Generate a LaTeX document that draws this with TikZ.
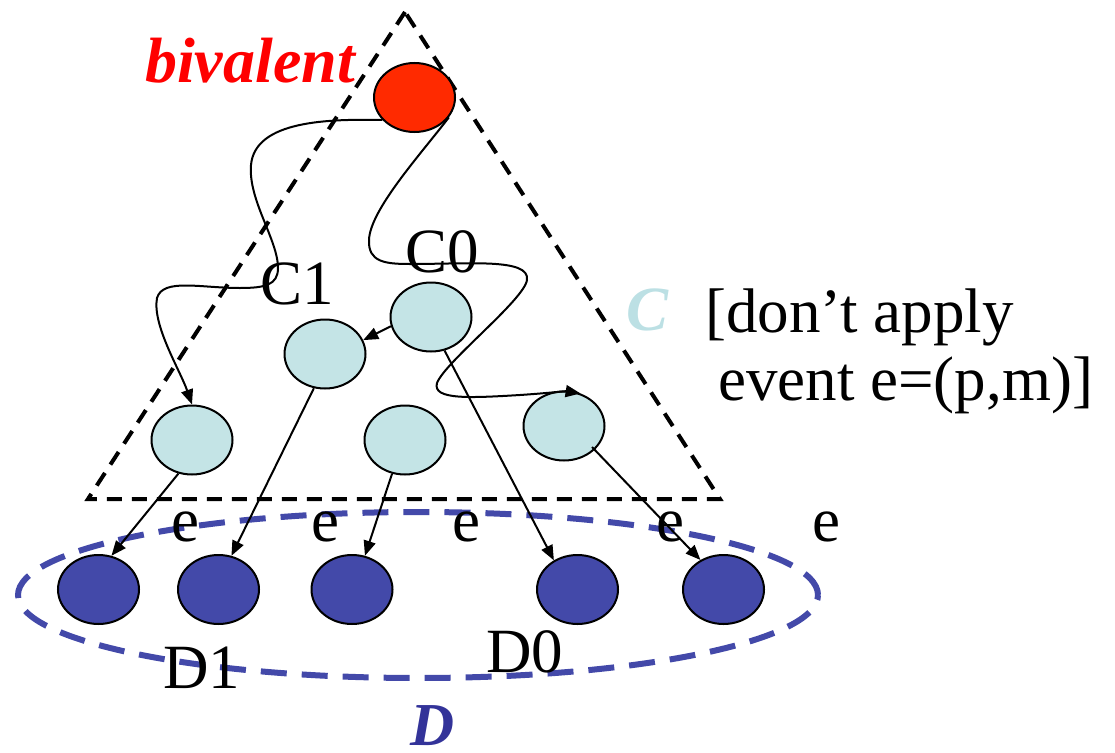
\documentclass[tikz,border=0pt]{standalone}
\usepackage{fontspec}
\setmainfont{Liberation Serif}
\usetikzlibrary{shapes.geometric,arrows.meta}
\definecolor{lblue}{RGB}{196,228,230}
\definecolor{ctext}{RGB}{188,224,228}
\definecolor{redfill}{RGB}{255,42,0}
\definecolor{dblue}{RGB}{67,73,169}
\definecolor{dtext}{RGB}{51,51,153}
\tikzset{
  state/.style={draw=black, line width=2pt, ellipse, minimum width=81pt, minimum height=69pt, inner sep=0pt},
  cstate/.style={state, fill=lblue},
  dstate/.style={state, fill=dblue},
  rstate/.style={state, fill=redfill},
  tri/.style={draw=black, line width=4pt, dash pattern=on 15pt off 10pt},
  dset/.style={draw=dblue, line width=6pt, dash pattern=on 26pt off 15pt, ellipse, minimum width=800pt, minimum height=166pt, inner sep=0pt},
  conn/.style={draw=black, line width=2pt, -{Triangle[length=15pt,width=12pt]}},
  lab/.style={font=\fontsize{63}{68}\selectfont, inner sep=0pt, anchor=base},
}
\begin{document}
\begin{tikzpicture}[x=1pt,y=-1pt]
\useasboundingbox (0,0) rectangle (1115,752);
% triangle C
\coordinate (T1) at (405,12);
\coordinate (T2) at (88,499);
\coordinate (T3) at (720,499);
\draw[tri] (T1) -- (T2) -- (T3) -- cycle;
% set D
\node[dset] (Dset) at (418,595) {};
% states
\node[rstate] (R) at (414.5,97.5) {};
\node[cstate] (C0n) at (431,317) {};
\node[cstate] (Cm) at (325,354) {};
\node[cstate] (La) at (192,440) {};
\node[cstate] (Lb) at (405,440) {};
\node[cstate] (Rr) at (564,426) {};
\node[dstate] (D1n) at (98.5,589.5) {};
\node[dstate] (D2n) at (218.5,589.5) {};
\node[dstate] (D3n) at (352,589.5) {};
\node[dstate] (D4n) at (577.5,589.5) {};
\node[dstate] (D5n) at (723.5,589.5) {};
% curved connectors
\draw[conn] (R.215) .. controls (330,119) and (255,120) .. (251,165)
  .. controls (248,200) and (278,240) .. (278,268)
  .. controls (278,285) and (265,288) .. (240,288)
  .. controls (200,288) and (163,278) .. (157,298)
  .. controls (152,325) and (180,370) .. (La.north);
\draw[conn] (R.330) .. controls (420,155) and (370,210) .. (369,240)
  .. controls (368,262) and (385,264) .. (410,264)
  .. controls (470,264) and (530,258) .. (527,280)
  .. controls (524,300) and (445,362) .. (437,383)
  .. controls (432,400) and (470,398) .. (520,395)
  .. controls (550,393) and (565,391) .. (Rr.63);
% straight connectors
\draw[conn] (C0n.193) -- (Cm.20);
\draw[conn] (La.248) -- (D1n.69);
\draw[conn] (Cm.252) -- (D2n.69);
\draw[conn] (Lb.249) -- (D3n.69);
\draw[conn] (C0n.292) -- (D4n.129);
\draw[conn] ([shift={(28,21)}]Rr.center) -- (D5n.128);
% labels
\node[lab, text=red, font=\fontsize{64}{68}\selectfont\bfseries\itshape] (biv) at (250,82) {bivalent};
\node[lab] (c1) at (297,304) {C1};
\node[lab] (c0) at (442,272) {C0};
\node[lab, text=ctext, font=\fontsize{63}{68}\selectfont\bfseries\itshape] (cset) at (648,330) {C};
\node[lab, anchor=base west] (t1) at (705,332) {[don’t apply};
\node[lab, anchor=base west] (t2) at (718,400) {event e=(p,m)]};
\node[lab] (e1) at (185,541) {e};
\node[lab] (e2) at (325,541) {e};
\node[lab] (e3) at (466,541) {e};
\node[lab] (e4) at (670,541) {e};
\node[lab] (e5) at (826,541) {e};
\node[lab] (d1) at (202,688) {D1};
\node[lab] (d0) at (525,672) {D0};
\node[lab, text=dtext, font=\fontsize{61}{66}\selectfont\bfseries\itshape] (dset) at (433,745) {D};
\end{tikzpicture}
\end{document}
